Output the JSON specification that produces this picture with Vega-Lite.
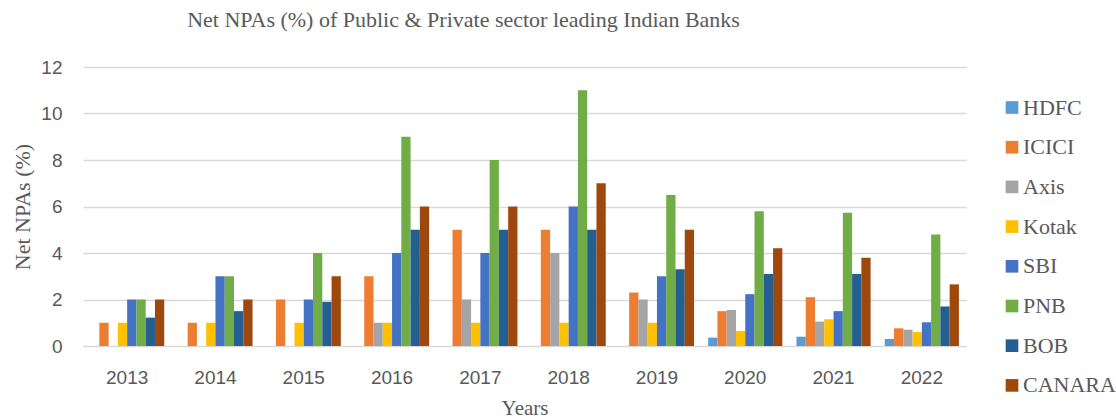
{
  "$schema": "https://vega.github.io/schema/vega-lite/v6.json",
  "autosize": "none",
  "padding": {"left": 83, "top": 67, "right": 150, "bottom": 72},
  "width": 883,
  "height": 279,
  "background": "white",
  "title": {
    "text": "Net NPAs (%) of Public & Private sector leading Indian Banks",
    "font": "Liberation Serif",
    "fontSize": 22,
    "fontWeight": "normal",
    "color": "#595959",
    "anchor": "middle",
    "dx": -61,
    "baseline": "alphabetic",
    "offset": 9
  },
  "data": {
    "values": [
      {"year": "2013", "bank": "ICICI", "npa": 1},
      {"year": "2013", "bank": "Kotak", "npa": 1},
      {"year": "2013", "bank": "SBI", "npa": 2},
      {"year": "2013", "bank": "PNB", "npa": 2},
      {"year": "2013", "bank": "BOB", "npa": 1.22},
      {"year": "2013", "bank": "CANARA", "npa": 2},
      {"year": "2014", "bank": "ICICI", "npa": 1},
      {"year": "2014", "bank": "Kotak", "npa": 1},
      {"year": "2014", "bank": "SBI", "npa": 3},
      {"year": "2014", "bank": "PNB", "npa": 3},
      {"year": "2014", "bank": "BOB", "npa": 1.5},
      {"year": "2014", "bank": "CANARA", "npa": 2},
      {"year": "2015", "bank": "ICICI", "npa": 2},
      {"year": "2015", "bank": "Kotak", "npa": 1},
      {"year": "2015", "bank": "SBI", "npa": 2},
      {"year": "2015", "bank": "PNB", "npa": 4},
      {"year": "2015", "bank": "BOB", "npa": 1.9},
      {"year": "2015", "bank": "CANARA", "npa": 3},
      {"year": "2016", "bank": "ICICI", "npa": 3},
      {"year": "2016", "bank": "Axis", "npa": 1},
      {"year": "2016", "bank": "Kotak", "npa": 1},
      {"year": "2016", "bank": "SBI", "npa": 4},
      {"year": "2016", "bank": "PNB", "npa": 9},
      {"year": "2016", "bank": "BOB", "npa": 5},
      {"year": "2016", "bank": "CANARA", "npa": 6},
      {"year": "2017", "bank": "ICICI", "npa": 5},
      {"year": "2017", "bank": "Axis", "npa": 2},
      {"year": "2017", "bank": "Kotak", "npa": 1},
      {"year": "2017", "bank": "SBI", "npa": 4},
      {"year": "2017", "bank": "PNB", "npa": 8},
      {"year": "2017", "bank": "BOB", "npa": 5},
      {"year": "2017", "bank": "CANARA", "npa": 6},
      {"year": "2018", "bank": "ICICI", "npa": 5},
      {"year": "2018", "bank": "Axis", "npa": 4},
      {"year": "2018", "bank": "Kotak", "npa": 1},
      {"year": "2018", "bank": "SBI", "npa": 6},
      {"year": "2018", "bank": "PNB", "npa": 11},
      {"year": "2018", "bank": "BOB", "npa": 5},
      {"year": "2018", "bank": "CANARA", "npa": 7},
      {"year": "2019", "bank": "ICICI", "npa": 2.3},
      {"year": "2019", "bank": "Axis", "npa": 2},
      {"year": "2019", "bank": "Kotak", "npa": 1},
      {"year": "2019", "bank": "SBI", "npa": 3},
      {"year": "2019", "bank": "PNB", "npa": 6.5},
      {"year": "2019", "bank": "BOB", "npa": 3.3},
      {"year": "2019", "bank": "CANARA", "npa": 5},
      {"year": "2020", "bank": "HDFC", "npa": 0.36},
      {"year": "2020", "bank": "ICICI", "npa": 1.5},
      {"year": "2020", "bank": "Axis", "npa": 1.55},
      {"year": "2020", "bank": "Kotak", "npa": 0.65},
      {"year": "2020", "bank": "SBI", "npa": 2.23},
      {"year": "2020", "bank": "PNB", "npa": 5.8},
      {"year": "2020", "bank": "BOB", "npa": 3.1},
      {"year": "2020", "bank": "CANARA", "npa": 4.2},
      {"year": "2021", "bank": "HDFC", "npa": 0.4},
      {"year": "2021", "bank": "ICICI", "npa": 2.1},
      {"year": "2021", "bank": "Axis", "npa": 1.05},
      {"year": "2021", "bank": "Kotak", "npa": 1.15},
      {"year": "2021", "bank": "SBI", "npa": 1.5},
      {"year": "2021", "bank": "PNB", "npa": 5.73},
      {"year": "2021", "bank": "BOB", "npa": 3.1},
      {"year": "2021", "bank": "CANARA", "npa": 3.8},
      {"year": "2022", "bank": "HDFC", "npa": 0.3},
      {"year": "2022", "bank": "ICICI", "npa": 0.76},
      {"year": "2022", "bank": "Axis", "npa": 0.7},
      {"year": "2022", "bank": "Kotak", "npa": 0.6},
      {"year": "2022", "bank": "SBI", "npa": 1.02},
      {"year": "2022", "bank": "PNB", "npa": 4.8},
      {"year": "2022", "bank": "BOB", "npa": 1.7},
      {"year": "2022", "bank": "CANARA", "npa": 2.65}
    ]
  },
  "mark": {"type": "bar"},
  "encoding": {
    "x": {
      "field": "year",
      "type": "nominal",
      "scale": {"paddingInner": 0.16, "paddingOuter": 0.08},
      "axis": {
        "title": "Years",
        "labelAngle": 0,
        "labelFont": "Liberation Sans",
        "labelFontSize": 19,
        "labelColor": "#595959",
        "labelPadding": 22,
        "ticks": false,
        "domainColor": "#D9D9D9",
        "titleFont": "Liberation Serif",
        "titleFontSize": 21,
        "titleFontWeight": "normal",
        "titleColor": "#595959",
        "titlePadding": 10
      }
    },
    "xOffset": {
      "field": "bank",
      "type": "nominal",
      "scale": {"domain": ["HDFC", "ICICI", "Axis", "Kotak", "SBI", "PNB", "BOB", "CANARA"], "paddingInner": 0, "paddingOuter": 0}
    },
    "y": {
      "field": "npa",
      "type": "quantitative",
      "scale": {"domain": [0, 12]},
      "axis": {
        "title": "Net NPAs (%)",
        "values": [0, 2, 4, 6, 8, 10, 12],
        "labelFont": "Liberation Sans",
        "labelFontSize": 19,
        "labelColor": "#595959",
        "labelPadding": 21,
        "ticks": false,
        "domain": false,
        "gridColor": "#D9D9D9",
        "gridWidth": 1.3,
        "titleFont": "Liberation Serif",
        "titleFontSize": 22,
        "titleFontWeight": "normal",
        "titleColor": "#595959",
        "titlePadding": 6
      }
    },
    "color": {
      "field": "bank",
      "type": "nominal",
      "scale": {
        "domain": ["HDFC", "ICICI", "Axis", "Kotak", "SBI", "PNB", "BOB", "CANARA"],
        "range": ["#5B9BD5", "#ED7D31", "#A5A5A5", "#FFC000", "#4472C4", "#70AD47", "#255E91", "#9E480E"]
      },
      "legend": {
        "title": null,
        "orient": "none",
        "legendX": 918,
        "legendY": 29.5,
        "padding": 0,
        "symbolType": "square",
        "symbolSize": 160,
        "symbolStrokeWidth": 0,
        "labelFont": "Liberation Serif",
        "labelFontSize": 22,
        "labelColor": "#595959",
        "labelOffset": 0,
        "labelLimit": 200,
        "rowPadding": 17.7
      }
    }
  },
  "config": {
    "view": {"stroke": null}
  }
}
